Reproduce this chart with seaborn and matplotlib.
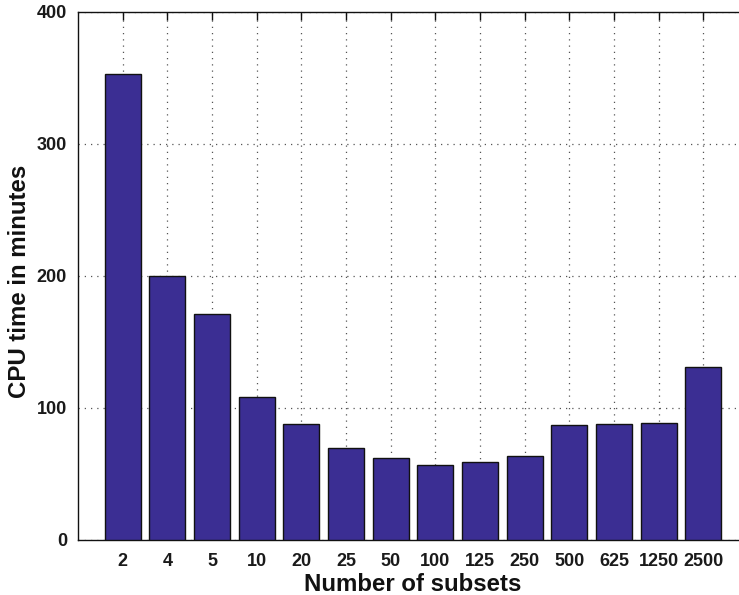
import matplotlib
matplotlib.use("Agg")
import matplotlib.pyplot as plt
import seaborn as sns
import pandas as pd

# CPU time for each subset count
subsets = ["2", "4", "5", "10", "20", "25", "50", "100", "125", "250",
           "500", "625", "1250", "2500"]
cpu_minutes = [353, 200, 171, 108, 88, 70, 62, 57, 59, 64, 87, 88, 89, 131]
y_ticks = [0, 100, 200, 300, 400]

df = pd.DataFrame({"subsets": subsets, "cpu": cpu_minutes})

sns.set_theme(style="white")
plt.rcParams["font.family"] = ["Liberation Sans", "DejaVu Sans"]
plt.rcParams["font.weight"] = "bold"

fig = plt.figure(figsize=(7.39, 5.95), dpi=100)
ax = fig.add_axes([78 / 739, 55 / 595, 670 / 739, 528 / 595])

sns.barplot(data=df, x="subsets", y="cpu", order=subsets, color="#3b2e93",
            saturation=1, width=0.8, edgecolor="#111111", linewidth=1.0,
            errorbar=None, ax=ax, zorder=3)

ax.set_xlim(-1, 14)
ax.set_ylim(0, 400)
ax.set_yticks(y_ticks)
ax.set_yticklabels([str(t) for t in y_ticks])

ax.set_axisbelow(True)
ax.grid(True, which="major", axis="both", linestyle=(0, (1, 4)),
        color="#555555", linewidth=0.9)

for side in ["left", "bottom", "top", "right"]:
    ax.spines[side].set_visible(True)
    ax.spines[side].set_color("#111111")
    ax.spines[side].set_linewidth(1.0)

ax.tick_params(axis="both", direction="in", length=6, width=1.0,
               colors="#111111", labelsize=13, top=True, right=True,
               pad=8)
ax.tick_params(axis="x", pad=9)
for lbl in ax.get_xticklabels() + ax.get_yticklabels():
    lbl.set_fontweight("bold")
    lbl.set_color("#1a1a1a")

ax.set_xlabel("Number of subsets", fontsize=17.3, fontweight="bold",
              color="#111111")
ax.xaxis.label.set_va("baseline")
ax.xaxis.set_label_coords(0.5, -0.0966)

ax.set_ylabel("CPU time in minutes", fontsize=17.3, fontweight="bold",
              color="#111111")
ax.yaxis.set_label_coords(-0.070, 0.49)

fig.savefig("out.png", dpi=100)
